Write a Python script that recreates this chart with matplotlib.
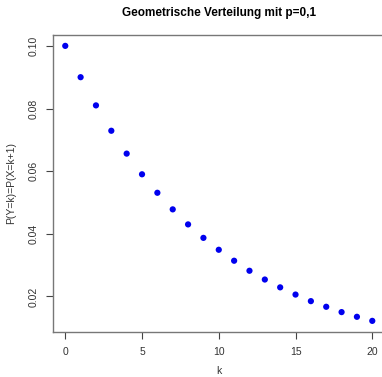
import numpy as np
import matplotlib.pyplot as plt

plt.rcParams['font.family'] = ['Liberation Sans', 'DejaVu Sans']

# values
k = [0, 1, 2, 3, 4, 5, 6, 7, 8, 9, 10, 11, 12, 13, 14, 15, 16, 17, 18, 19, 20]
prob = [0.1000, 0.0900, 0.0810, 0.0729, 0.0656, 0.0590, 0.0531, 0.0478,
        0.0430, 0.0387, 0.0349, 0.0314, 0.0282, 0.0254, 0.0229, 0.0206,
        0.0185, 0.0167, 0.0150, 0.0135, 0.0122]
xticks = [0, 5, 10, 15, 20]
yticks = [0.02, 0.04, 0.06, 0.08, 0.10]

fig = plt.figure(figsize=(3.82, 3.77), dpi=100)
ax = fig.add_axes([0.1387, 0.1194, 0.868, 0.788])

ax.scatter(k, prob, s=20, color='#0000ee', edgecolors='none', zorder=3)

ax.set_xlim(-0.8, 20.8)
ax.set_ylim(0.00865, 0.1035)
ax.set_xticks(xticks)
ax.set_yticks(yticks)
ax.set_yticklabels([f"{v:.2f}" for v in yticks], rotation=90, va='center')
ax.tick_params(direction='out', length=5, width=0.8, color='#444444',
               labelsize=7.5, labelcolor='#333333', pad=6)
ax.tick_params(axis='y', pad=5)

for s in ax.spines.values():
    s.set_color('#777777')
    s.set_linewidth(1.0)

ax.set_xlabel("k", fontsize=7.5, color='#333333', labelpad=6)
ax.set_ylabel("P(Y=k)=P(X=k+1)", fontsize=7.5, color='#333333', labelpad=9)
fig.text(0.573, 0.965, "Geometrische Verteilung mit p=0,1", ha='center',
         va='center', fontsize=8.5, fontweight='bold')

fig.savefig("out.png", dpi=100)
